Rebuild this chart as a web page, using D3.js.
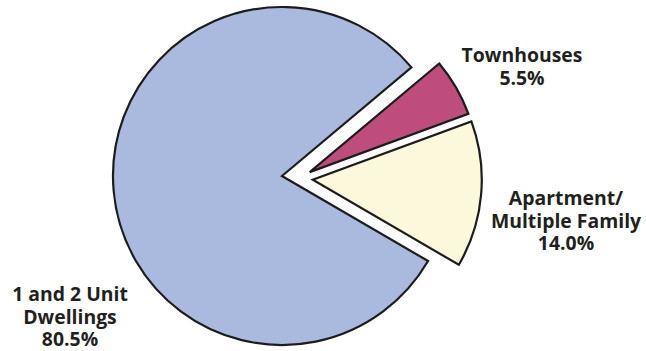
<!DOCTYPE html>
<html>
<head>
<meta charset="utf-8">
<script src="https://cdn.jsdelivr.net/npm/d3@7"></script>
<style>
  html, body { margin: 0; padding: 0; background: #fff; }
  svg { display: block; }
  text { font-family: "Open Sans", "Noto Sans", sans-serif; font-weight: 700; fill: #231f20; }
</style>
</head>
<body>
<svg id="chart" width="646" height="351"></svg>
<script>
// Housing units by type (percent share)
const categories = ["Townhouses", "Apartment/Multiple Family", "1 and 2 Unit Dwellings"];
const shares = [5.5, 14.0, 80.5];
const labelLines = [
  ["Townhouses", "5.5%"],
  ["Apartment/", "Multiple Family", "14.0%"],
  ["1 and 2 Unit", "Dwellings", "80.5%"]
];
const colors = ["#bf4d7b", "#fcf8dc", "#aab9de"];

const W = 646, H = 351;
const cx = 282, cy = 176, R = 169;
const deg = Math.PI / 180;

// how far each slice is pulled out from the centre, and in which direction
const explode = [
  { dist: 28, angle: 82 },
  { dist: 31, angle: 97 },
  { dist: 0, angle: 0 }
];
// label anchor points (centre of text block, first baseline)
const labelPos = [
  { x: 522, y: 62 },
  { x: 566, y: 205 },
  { x: 70, y: 301 }
];
const lineGap = 22.5;

const svg = d3.select("#chart");

const pie = d3.pie()
  .sort(null)
  .value(d => d)
  .startAngle(50 * deg)
  .endAngle(410 * deg);

const arc = d3.arc().innerRadius(0).outerRadius(R);

const arcs = pie(shares);

const g = svg.append("g").attr("transform", `translate(${cx},${cy})`);

g.selectAll("path")
  .data(arcs)
  .join("path")
  .attr("transform", (d, i) => {
    const e = explode[i];
    const a = e.angle * deg;
    return `translate(${e.dist * Math.sin(a)},${-e.dist * Math.cos(a)})`;
  })
  .attr("d", arc)
  .attr("fill", (d, i) => colors[i])
  .attr("stroke", "#1c1c1c")
  .attr("stroke-width", 2.2)
  .attr("stroke-linejoin", "miter");

const labels = svg.append("g");
labelLines.forEach((lines, i) => {
  lines.forEach((s, j) => {
    labels.append("text")
      .attr("text-anchor", "middle")
      .attr("font-size", 19.4)
      .attr("x", labelPos[i].x)
      .attr("y", labelPos[i].y + j * lineGap)
      .text(s);
  });
});
</script>
</body>
</html>
